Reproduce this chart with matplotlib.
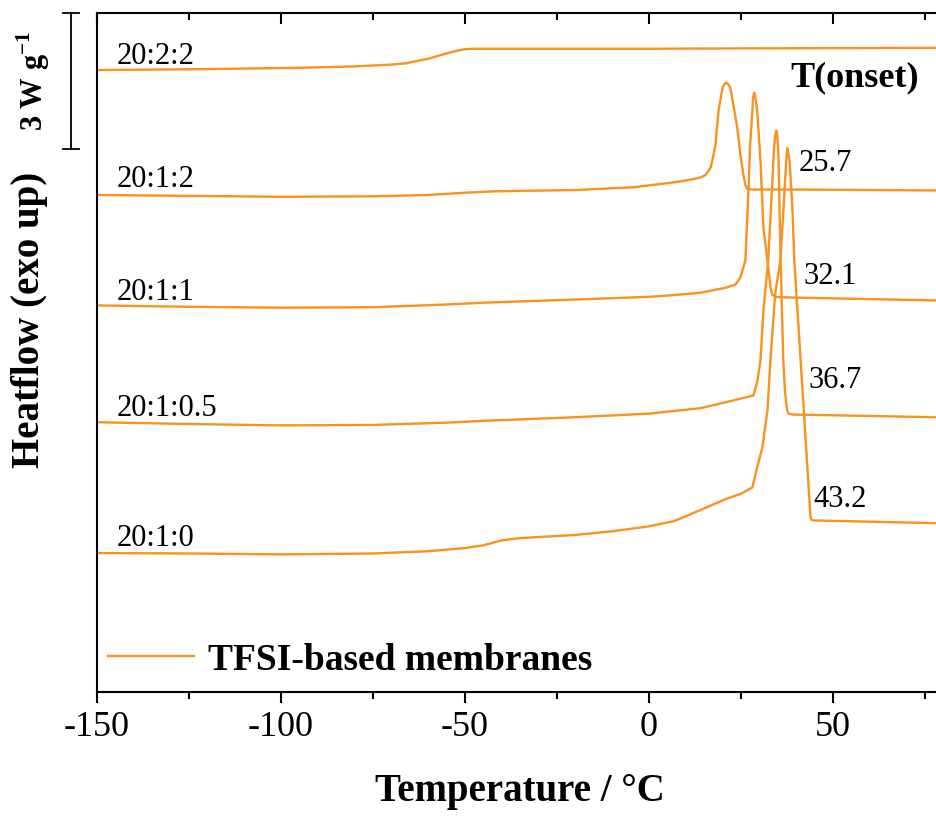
import matplotlib
matplotlib.use("Agg")
import matplotlib.pyplot as plt
from matplotlib.ticker import MultipleLocator
from matplotlib.transforms import blended_transform_factory

plt.rcParams["font.family"] = ["Liberation Serif", "DejaVu Serif"]
plt.rcParams["mathtext.fontset"] = "custom"
plt.rcParams["mathtext.rm"] = "Liberation Serif"
plt.rcParams["mathtext.bf"] = "Liberation Serif:bold"
plt.rcParams["axes.unicode_minus"] = False

ORANGE = "#F7931E"

# DSC traces, temperature (°C) vs heat flow (W/g, stacked with offsets)
t_222 = [-150, -120, -95, -80, -75, -70, -66, -63, -60, -57, -54, -52, -50, -48, -30, 0, 30, 78]
h_222 = [13.74, 13.76, 13.79, 13.82, 13.84, 13.86, 13.89, 13.94, 13.99, 14.06, 14.13, 14.17, 14.20, 14.21,
         14.21, 14.21, 14.22, 14.23]

t_212 = [-150, -125, -100, -75, -60, -50, -42, -20, -4.3, 5.0, 9.3, 12.0, 14.1, 15.4, 16.8, 17.5, 18.1,
         18.9, 20.0, 20.5, 21.0, 21.5, 22.1, 22.9, 24.0, 24.8, 25.6, 26.2, 26.7, 28.1, 41, 78]
h_212 = [10.98, 10.96, 10.94, 10.95, 10.98, 11.03, 11.06, 11.09, 11.15, 11.24, 11.29, 11.33, 11.37, 11.42, 11.59,
         11.85, 12.11, 12.84, 13.35, 13.43, 13.46, 13.43, 13.35, 12.99, 12.46, 11.89, 11.45, 11.20, 11.12,
         11.10, 11.10, 11.08]

t_211 = [-150, -125, -100, -75, -55, -45, -20, 0, 7, 14.0, 20.8, 23.5, 24.8, 26.2, 27.0, 27.5, 28.1,
         28.3, 28.6, 28.9, 29.4, 30.3, 31.1, 32.2, 33.0, 33.5, 34.3, 35.7, 78]
h_211 = [8.54, 8.51, 8.49, 8.50, 8.56, 8.60, 8.67, 8.73, 8.77, 8.82, 8.93, 9.00, 9.15, 9.53, 11.01, 12.11, 12.84,
         13.15, 13.24, 13.15, 12.84, 11.74, 10.26, 9.53, 8.95, 8.78, 8.73, 8.72, 8.65]

t_2105 = [-150, -125, -100, -75, -55, -45, -20, 0, 7, 14.0, 20.8, 28.4, 29.4, 30.3, 31.1, 32.4, 33.3,
          33.9, 34.3, 34.6, 34.9, 35.2, 35.5, 35.8, 36.5, 37.0, 37.5, 37.9, 39, 78]
h_2105 = [5.96, 5.92, 5.89, 5.90, 5.95, 5.99, 6.07, 6.15, 6.21, 6.27, 6.40, 6.55, 6.85, 7.32, 8.43, 9.53, 10.9,
          11.9, 12.3, 12.40, 12.3, 11.8, 10.6, 9.5, 7.32, 6.6, 6.25, 6.15, 6.13, 6.07]

t_210 = [-150, -125, -100, -75, -60, -50, -45, -40, -35, -20, -10, 0, 7, 14, 20.8, 25, 28.1,
         29.4, 30.8, 32.2, 33.0, 34.3, 35.7, 36.8, 37.3, 37.6, 38.2, 39.0, 39.5, 43.9, 44.2, 44.7, 78]
h_210 = [3.07, 3.06, 3.04, 3.06, 3.11, 3.18, 3.24, 3.35, 3.40, 3.47, 3.55, 3.66, 3.78, 4.02, 4.26, 4.38, 4.52,
         4.96, 5.40, 6.22, 7.32, 8.80, 9.53, 11.01, 11.74, 12.02, 11.74, 10.63, 9.53, 3.86, 3.80, 3.79, 3.73]

temps = [t_222, t_212, t_211, t_2105, t_210]
flows = [h_222, h_212, h_211, h_2105, h_210]
names = ["20:2:2", "20:1:2", "20:1:1", "20:1:0.5", "20:1:0"]
name_y = [13.88, 11.16, 8.67, 6.09, 3.22]

onsets = ["25.7", "32.1", "36.7", "43.2"]
onset_x = [40.6, 42.0, 43.4, 44.7]
onset_y = [11.52, 9.02, 6.71, 4.08]

fig = plt.figure(figsize=(9.36, 8.18), dpi=100)
ax = fig.add_axes([97 / 936, 126 / 818, 839 / 936, 679 / 818])

for i, (t, h) in enumerate(zip(temps, flows)):
    ax.plot(t, h, color=ORANGE, lw=1.7, solid_joinstyle="round",
            label="TFSI-based membranes" if i == 0 else None)

for name, y in zip(names, name_y):
    ax.text(-144.8, y, name, fontsize=22, va="baseline", ha="left")

for s, x, y in zip(onsets, onset_x, onset_y):
    ax.text(x, y, s, fontsize=22, va="baseline", ha="left")

ax.text(38.4, 13.37, "T(onset)", fontsize=26, fontweight="bold", va="baseline", ha="left")

ax.set_xlim(-150, 78)
ax.set_ylim(0, 15)
ax.set_yticks([])

ax.spines["right"].set_visible(False)
ax.spines["top"].set_visible(False)
for sp in ["left", "bottom"]:
    ax.spines[sp].set_linewidth(1.5)

ax.xaxis.set_major_locator(MultipleLocator(50))
ax.xaxis.set_minor_locator(MultipleLocator(25))
ax.tick_params(axis="x", which="major", direction="out", length=8, width=1.5,
               labelsize=26, pad=6)
ax.tick_params(axis="x", which="minor", direction="out", length=5, width=1.5)

top = ax.secondary_xaxis("top")
top.xaxis.set_major_locator(MultipleLocator(50))
top.xaxis.set_minor_locator(MultipleLocator(25))
top.tick_params(axis="x", which="major", direction="in", length=8, width=1.5, labeltop=False)
top.tick_params(axis="x", which="minor", direction="in", length=5, width=1.5)
top.spines["top"].set_linewidth(1.5)

fig.text(0.556, 0.033, "Temperature / °C", fontsize=28, fontweight="bold",
         ha="center", va="center")
fig.text(0.031, 0.609, "Heatflow (exo up)", fontsize=28, fontweight="bold",
         ha="center", va="center", rotation=90)

# 3 W/g scale bar
tr = blended_transform_factory(fig.transFigure, ax.transData)
bx = 71 / 936
cap = 8 / 936
ax.plot([bx, bx], [12, 15], color="black", lw=1.3, transform=tr, clip_on=False)
ax.plot([bx - cap, bx + cap], [12, 12], color="black", lw=1.3, transform=tr, clip_on=False)
ax.plot([bx - cap, bx + cap], [15, 15], color="black", lw=1.3, transform=tr, clip_on=False)
ax.text(0.035, 13.5, r"3 W g$^{\mathbf{-1}}$", fontsize=22, fontweight="bold",
        rotation=90, ha="center", va="center", transform=tr)

ax.legend(loc="center left", bbox_to_anchor=(0.013, 0.047), frameon=False,
          prop={"size": 27, "weight": "bold"}, handlelength=2.3, handletextpad=0.37,
          borderpad=0, borderaxespad=0)

fig.savefig("out.png", dpi=100)
